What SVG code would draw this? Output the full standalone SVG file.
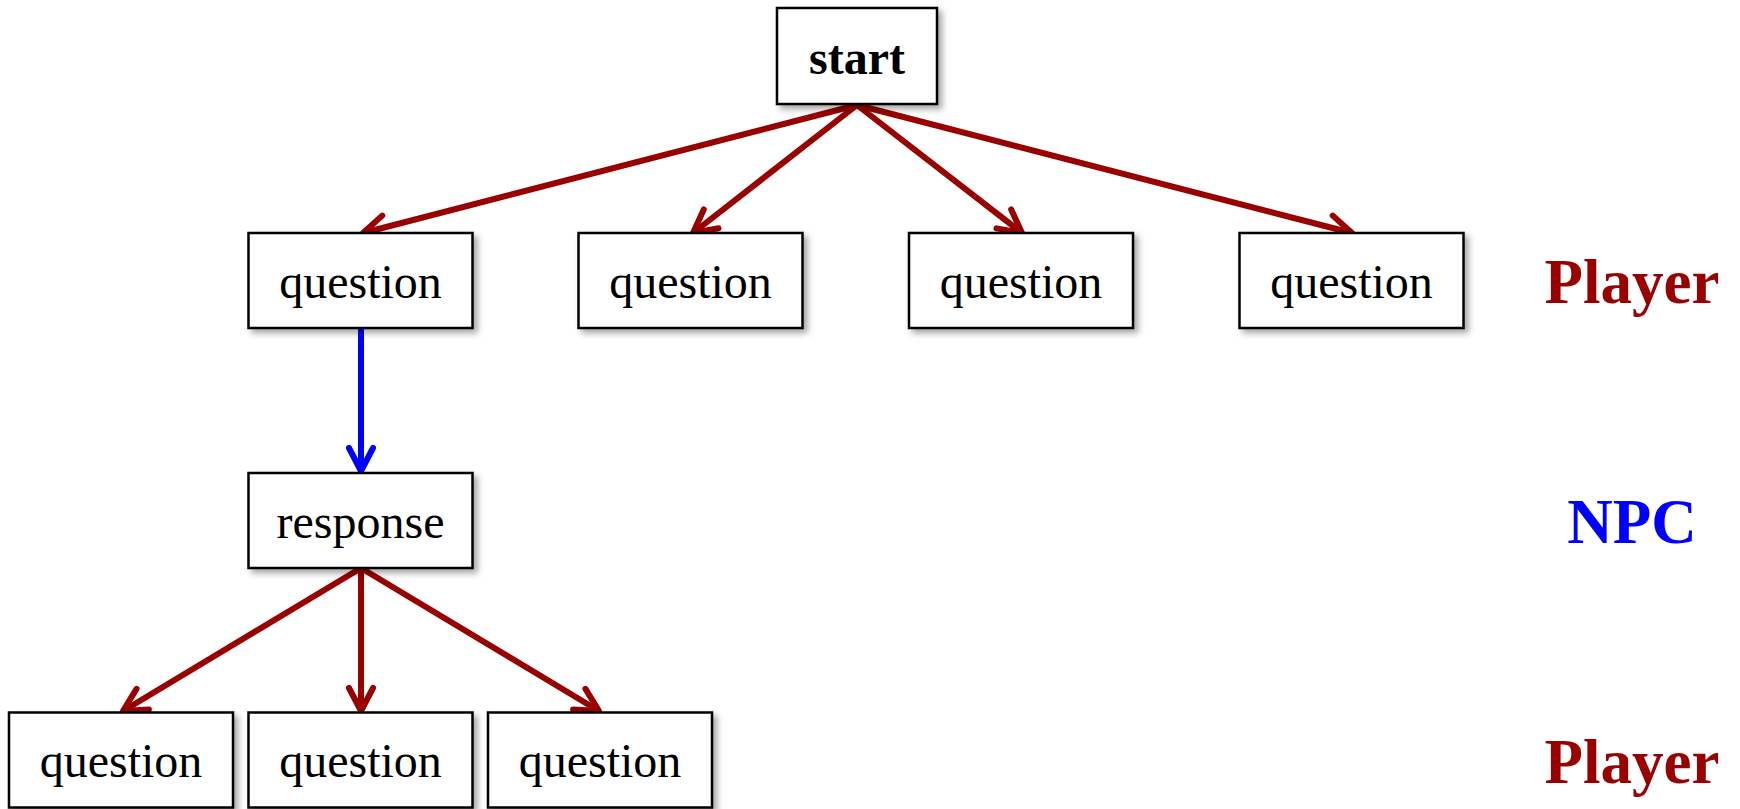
<svg xmlns="http://www.w3.org/2000/svg" width="1740" height="809" viewBox="0 0 1740 809">
<style>
.box{fill:#fff;stroke:#000;stroke-width:2.5;filter:url(#sh)}
.t{font-family:"Liberation Serif","Times New Roman",serif;font-size:48px;text-anchor:middle;fill:#000}
.b{font-weight:bold}
.lbl{font-family:"Liberation Serif","Times New Roman",serif;font-size:63px;font-weight:bold;text-anchor:middle}
.red{stroke:#990000;stroke-width:6;fill:none;marker-end:url(#ar)}
.blue{stroke:#0000ff;stroke-width:6;fill:none;marker-end:url(#ab)}
</style>
<defs>
<filter id="sh" x="-20%" y="-20%" width="140%" height="150%">
<feDropShadow dx="4" dy="4" stdDeviation="3" flood-color="#000" flood-opacity="0.35"/>
</filter>
<marker id="ar" markerUnits="userSpaceOnUse" orient="auto" refX="0" refY="0" markerWidth="60" markerHeight="60" viewBox="-30 -30 60 60" overflow="visible">
<path d="M-23,-12 L0,0 L-23,12" fill="none" stroke="#990000" stroke-width="6" stroke-linecap="round" stroke-linejoin="round"/>
</marker>
<marker id="ab" markerUnits="userSpaceOnUse" orient="auto" refX="0" refY="0" markerWidth="60" markerHeight="60" viewBox="-30 -30 60 60" overflow="visible">
<path d="M-23,-12 L0,0 L-23,12" fill="none" stroke="#0000ff" stroke-width="6" stroke-linecap="round" stroke-linejoin="round"/>
</marker>
</defs>
<rect width="1740" height="809" fill="#fff"/>
<g id="connectors">
<line class="red" x1="857" y1="105" x2="363" y2="233"/>
<line class="red" x1="857" y1="105" x2="693" y2="233"/>
<line class="red" x1="857" y1="105" x2="1022" y2="233"/>
<line class="red" x1="857" y1="105" x2="1352" y2="233"/>
<line class="blue" x1="361" y1="329" x2="361" y2="471"/>
<line class="red" x1="361" y1="568" x2="123" y2="711"/>
<line class="red" x1="361" y1="568" x2="361" y2="711"/>
<line class="red" x1="361" y1="568" x2="599" y2="711"/>
</g>
<g id="start"><rect class="box" x="777" y="8" width="160" height="96"/><text class="t b" x="857" y="74">start</text></g>
<g id="q1"><rect class="box" x="248.5" y="233" width="224" height="95"/><text class="t" x="360.5" y="298">question</text></g>
<g id="q2"><rect class="box" x="578.5" y="233" width="224" height="95"/><text class="t" x="690.5" y="298">question</text></g>
<g id="q3"><rect class="box" x="909" y="233" width="224" height="95"/><text class="t" x="1021" y="298">question</text></g>
<g id="q4"><rect class="box" x="1239.5" y="233" width="224" height="95"/><text class="t" x="1351.5" y="298">question</text></g>
<g id="response"><rect class="box" x="248.5" y="473" width="224" height="95"/><text class="t" x="360.5" y="538">response</text></g>
<g id="q5"><rect class="box" x="9" y="712.5" width="224" height="95"/><text class="t" x="121" y="777">question</text></g>
<g id="q6"><rect class="box" x="248.5" y="712.5" width="224" height="95"/><text class="t" x="360.5" y="777">question</text></g>
<g id="q7"><rect class="box" x="488" y="712.5" width="224" height="95"/><text class="t" x="600" y="777">question</text></g>
<g id="labels">
<text class="lbl" x="1632" y="303" fill="#990000">Player</text>
<text class="lbl" x="1632" y="543" fill="#0000ff">NPC</text>
<text class="lbl" x="1632" y="783" fill="#990000">Player</text>
</g>
</svg>
